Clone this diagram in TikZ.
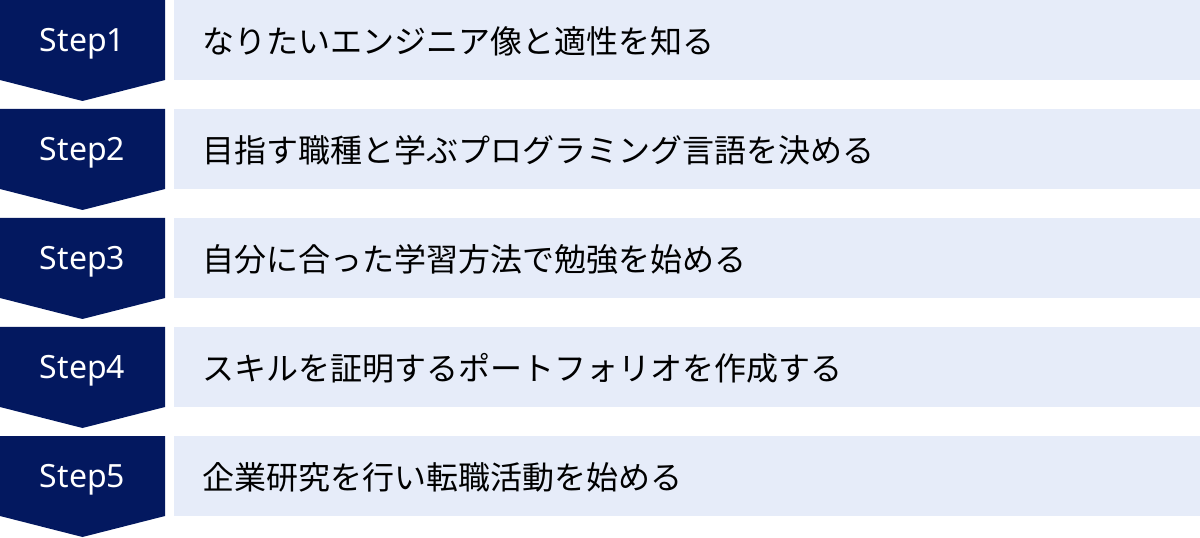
\documentclass[tikz,border=0pt]{standalone}
\usepackage{fontspec}
\setmainfont{Noto Sans}
\newfontfamily\jpfont{Noto Sans CJK JP}
\usepackage{tikz}

\definecolor{stepnavy}{HTML}{03185F}
\definecolor{itempale}{HTML}{E6ECF9}

\tikzset{
  stepshape/.style={fill=stepnavy, draw=none},
  steplabel/.style={text=white, inner sep=0pt, font=\fontsize{24}{29}\selectfont},
  itembox/.style={rectangle, fill=itempale, draw=none, inner sep=0pt, minimum width=769.5pt, minimum height=60pt},
  itemtext/.style={anchor=west, inner sep=0pt, text=black, font=\jpfont\fontsize{24}{29}\selectfont}
}

\begin{document}
\begin{tikzpicture}[x=0.75pt, y=-0.75pt]
			\useasboundingbox (0,0) rectangle (1200,538);
			
			\fill[stepshape] (0,0) -- (165,0) -- (165,80) -- (82.5,101) -- (0,80) -- cycle;
			\fill[stepshape] (0,109) -- (165,109) -- (165,189) -- (82.5,210) -- (0,189) -- cycle;
			\fill[stepshape] (0,218) -- (165,218) -- (165,298) -- (82.5,319) -- (0,298) -- cycle;
			\fill[stepshape] (0,327) -- (165,327) -- (165,407) -- (82.5,428) -- (0,407) -- cycle;
			\fill[stepshape] (0,436) -- (165,436) -- (165,516) -- (82.5,537) -- (0,516) -- cycle;
			
			\node[steplabel] (s1) at (82.5,44) {Step1};
			\node[steplabel] (s2) at (82.5,153) {Step2};
			\node[steplabel] (s3) at (82.5,262) {Step3};
			\node[steplabel] (s4) at (82.5,371) {Step4};
			\node[steplabel] (s5) at (82.5,480) {Step5};
			
			\node[itembox] (b1) at (687,40){};
			\node[itembox] (b2) at (687,149){};
			\node[itembox] (b3) at (687,258){};
			\node[itembox] (b4) at (687,367){};
			\node[itembox] (b5) at (687,476){};
			
			\node[itemtext] (t1) at (202,41) {なりたいエンジニア像と適性を知る};
			\node[itemtext] (t2) at (202,150) {目指す職種と学ぶプログラミング言語を決める};
			\node[itemtext] (t3) at (202,259) {自分に合った学習方法で勉強を始める};
			\node[itemtext] (t4) at (202,368) {スキルを証明するポートフォリオを作成する};
			\node[itemtext] (t5) at (202,477) {企業研究を行い転職活動を始める};
\end{tikzpicture}
\end{document}
